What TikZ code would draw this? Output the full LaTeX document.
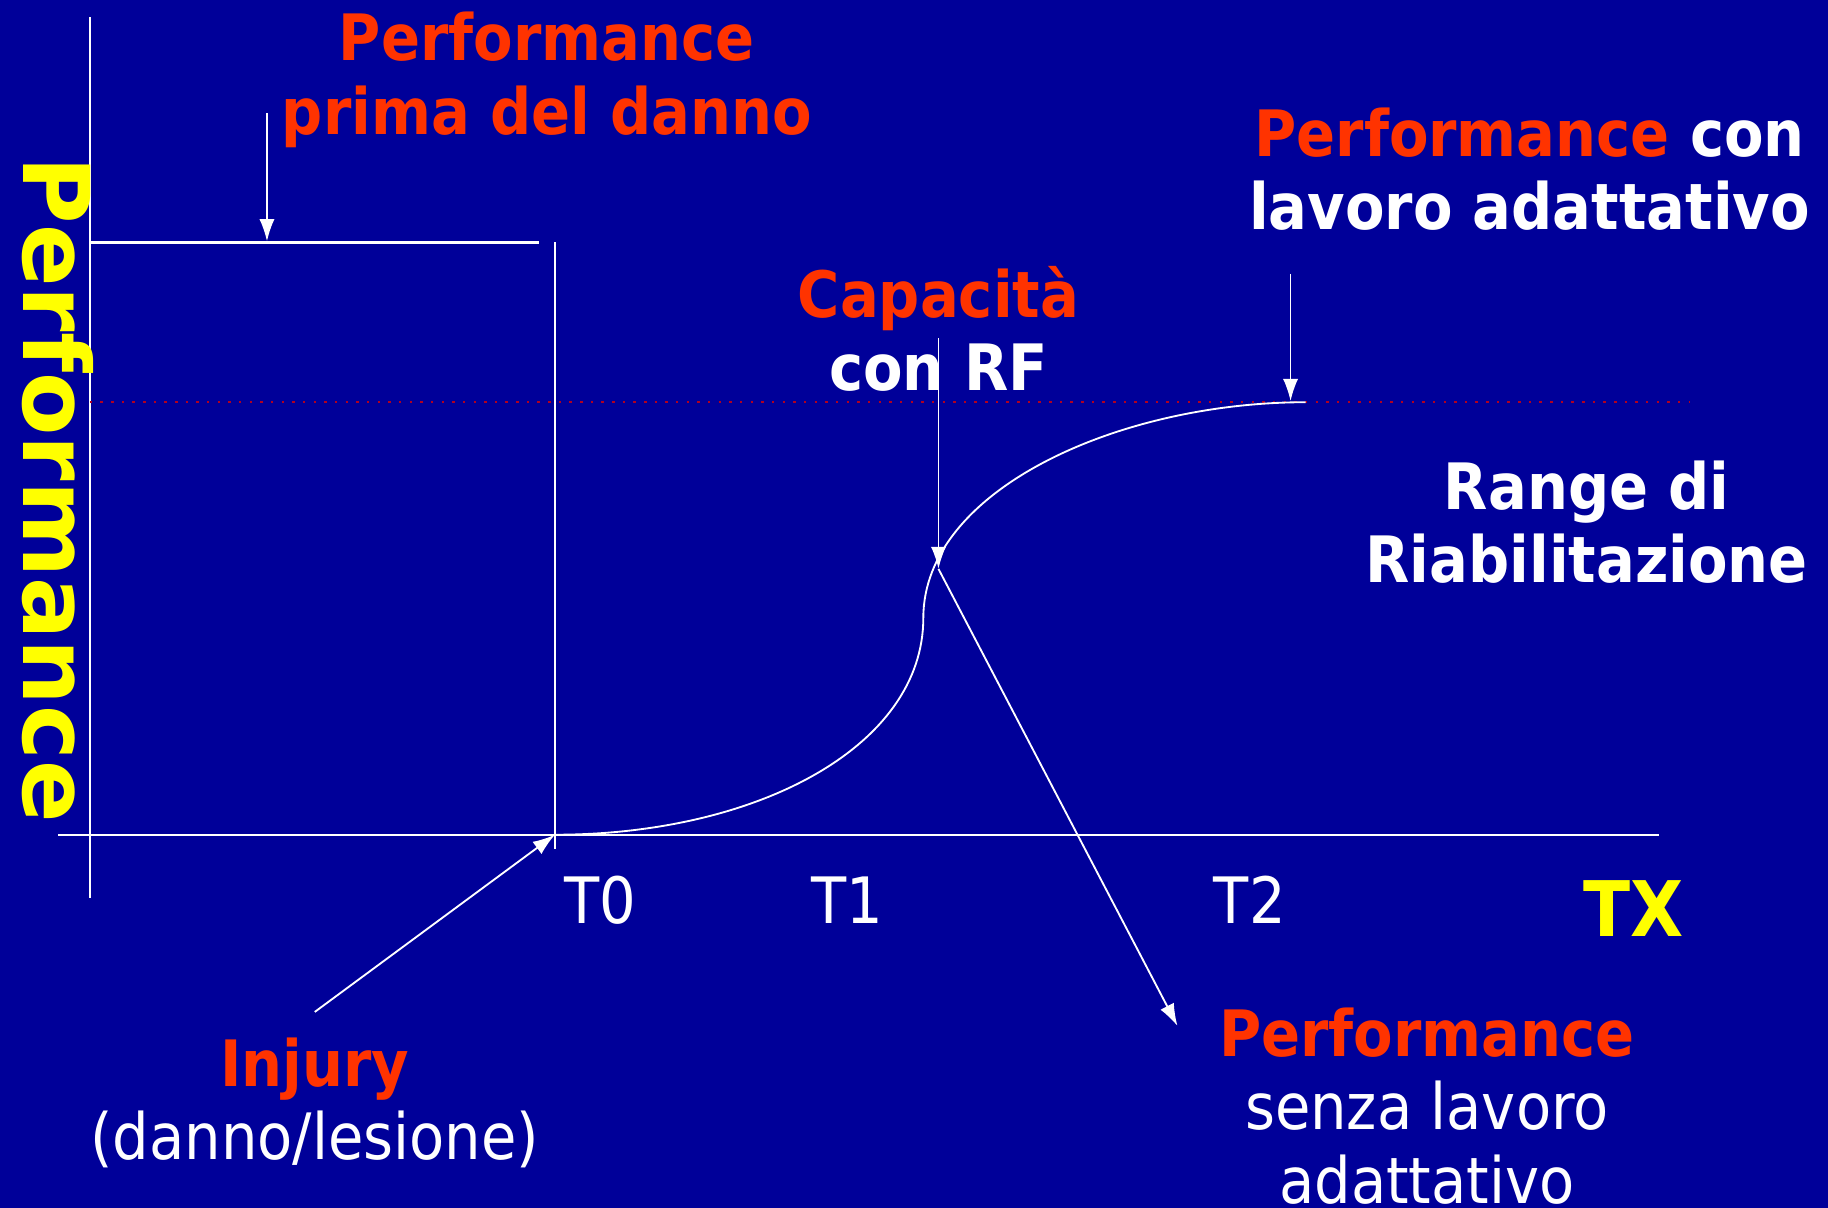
\documentclass[tikz,border=0pt]{standalone}
\usepackage{fontspec}
\setmainfont{DejaVu Sans}[FakeStretch=0.9]
\newfontfamily\axisfont{DejaVu Sans}
\usetikzlibrary{arrows.meta}
\definecolor{slideblue}{HTML}{000099}
\definecolor{slidered}{HTML}{FF3300}
\definecolor{slideyellow}{HTML}{FFFF00}
\definecolor{dotred}{HTML}{B00020}
\tikzset{
  lbl/.style={text=white, inner sep=0pt, align=center, font=\fontsize{15.6}{17.9}\selectfont},
  boldlbl/.style={lbl, font=\fontsize{15.6}{17.9}\selectfont\bfseries},
  pointer/.style={draw=white, line width=0.45pt, -{Latex[length=1.9mm,width=1.3mm]}},
  axisline/.style={draw=white, line width=0.45pt},
}

\begin{document}
\begin{tikzpicture}[x=0.01cm,y=-0.01cm]
        \fill[slideblue] (0,0) rectangle (1568,1036);
        \useasboundingbox (0,0) rectangle (1568,1036);
        % axes
        \coordinate (axtop) at (77,15);
        \coordinate (axbot) at (77,770);
        \coordinate (axleft) at (50,716);
        \coordinate (axright) at (1423,716);
        \draw[axisline] (axtop) -- (axbot);
        \draw[axisline] (axleft) -- (axright);
        % level before the injury
        \coordinate (prel) at (77,208);
        \coordinate (prer) at (462,208);
        \coordinate (t0top) at (476,208);
        \coordinate (t0bot) at (476,728);
        \draw[axisline, line width=0.7pt] (prel) -- (prer);
        \draw[axisline] (t0top) -- (t0bot);
        % adaptive work level
        \coordinate (dotl) at (77,345);
        \coordinate (dotr) at (1450,345);
        \draw[dotred, dotted, line width=0.6pt] (dotl) -- (dotr);
        % recovery curve
        \coordinate (foot) at (476,716);
        \coordinate (knee) at (792,530);
        \coordinate (capp) at (805,488);
        \coordinate (plateau) at (1120,345);
        \draw[axisline] (foot) .. controls (650,716) and (792,640) .. (knee)
                .. controls (792,420) and (960,345) .. (plateau);

        % labels (base = last line)
        \node[boldlbl, text=slidered, anchor=base] (prima) at (469,115)
                {Performance\\prima del danno};
        \node[boldlbl, anchor=base] (adatt) at (1312,197)
                {\textcolor{slidered}{Performance} con\\lavoro adattativo};
        \node[boldlbl, anchor=base] (capac) at (805,335)
                {\textcolor{slidered}{Capacità}\\con RF};
        \node[boldlbl, anchor=base] (range) at (1361,500)
                {Range di\\Riabilitazione};
        \node[lbl, anchor=base] (injury) at (270,995)
                {\textcolor{slidered}{\bfseries Injury}\\(danno/lesione)};
        \node[lbl, anchor=base] (senza) at (1224,1032)
                {\textcolor{slidered}{\bfseries Performance}\\senza lavoro\\adattativo};
        % time axis
        \node[lbl, anchor=base] (t0) at (515,792) {T0};
        \node[lbl, anchor=base] (t1) at (727,792) {T1};
        \node[lbl, anchor=base] (t2) at (1072,792) {T2};
        \node[boldlbl, text=slideyellow, anchor=base, font=\fontsize{18.7}{20}\selectfont\bfseries] (tx) at (1401,803) {TX};
        \node[text=slideyellow, inner sep=0pt, rotate=-90, anchor=base,
                font=\axisfont\fontsize{22.5}{24}\selectfont\bfseries] (perf) at (20,420) {Performance};

        % pointers
        \coordinate (preA) at (229,97);
        \coordinate (preB) at (229,207);
        \coordinate (capA) at (805,290);
        \coordinate (adaA) at (1107,235);
        \coordinate (adaB) at (1107,344);
        \coordinate (dropB) at (1010,880);
        \coordinate (injA) at (270,868);
        \draw[pointer] (preA) -- (preB);
        \draw[pointer] (capA) -- (capp);
        \draw[pointer] (adaA) -- (adaB);
        \draw[pointer] (capp) -- (dropB);
        \draw[pointer] (injA) -- (foot);
\end{tikzpicture}
\end{document}
